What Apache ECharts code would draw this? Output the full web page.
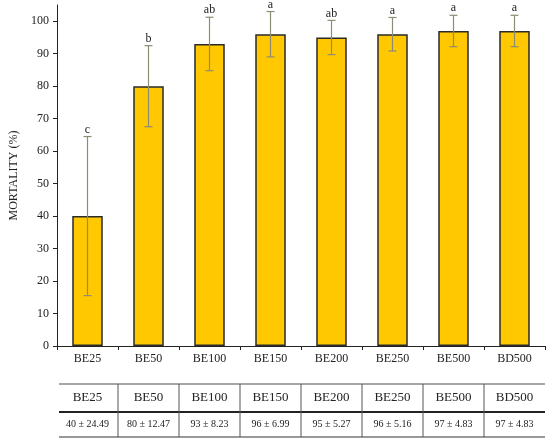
<!DOCTYPE html>
<html>
<head>
	<meta charset="UTF-8">
	<title>mortality chart</title>
	<script src="https://cdn.jsdelivr.net/npm/echarts@6/dist/echarts.min.js"></script>
	<style>
		body { margin: 0; background: #fff; }
		#chart { width: 550px; height: 442px; }
	</style>
</head>
<body>
<div id="chart"></div>
<script type="text/javascript">
	// data
	var categories = ['BE25', 'BE50', 'BE100', 'BE150', 'BE200', 'BE250', 'BE500', 'BD500'];
	var mortality = [40, 80, 93, 96, 95, 96, 97, 97];
	var errors = [24.49, 12.47, 8.23, 6.99, 5.27, 5.16, 4.83, 4.83];
	var letters = ['c', 'b', 'ab', 'a', 'ab', 'a', 'a', 'a'];
	var yTicks = [0, 10, 20, 30, 40, 50, 60, 70, 80, 90, 100];

	var serif = '"Liberation Serif", "DejaVu Serif", serif';

	var errData = [];
	for (var i = 0; i < categories.length; i++) {
		errData.push([i, mortality[i], errors[i]]);
	}

	var myChart = echarts.init(document.getElementById('chart'));

	var option = {
		animation: false,
		grid: { left: 51, right: 5, top: 5, bottom: 96 },
		xAxis: {
			type: 'category',
			data: categories,
			axisLine: { lineStyle: { color: '#222', width: 1 } },
			axisTick: { show: true, length: 4, lineStyle: { color: '#222' } },
			axisLabel: { color: '#222', fontFamily: serif, fontSize: 12, margin: 7 }
		},
		yAxis: {
			type: 'value',
			min: 0,
			max: 105,
			name: 'MORTALITY (%)',
			nameLocation: 'middle',
			nameGap: 37,
			nameTextStyle: { color: '#222', fontFamily: serif, fontSize: 12 },
			axisLine: { show: true, lineStyle: { color: '#222', width: 1 } },
			axisTick: { show: true, length: 4, customValues: yTicks, lineStyle: { color: '#222' } },
			axisLabel: { color: '#222', fontFamily: serif, fontSize: 12, margin: 8, customValues: yTicks },
			splitLine: { show: false }
		},
		series: [{
			type: 'bar',
			data: mortality,
			barWidth: '50%',
			itemStyle: { color: '#FFC800', borderColor: '#2a2a2a', borderWidth: 1.5 }
		}, {
			type: 'custom',
			data: errData,
			z: 5,
			renderItem: function (params, api) {
				var idx = api.value(0);
				var v = api.value(1);
				var e = api.value(2);
				var hi = api.coord([idx, v + e]);
				var lo = api.coord([idx, v - e]);
				var cap = 4;
				var style = { stroke: '#8c8c74', lineWidth: 1.2 };
				return {
					type: 'group',
					children: [
						{ type: 'line', shape: { x1: hi[0], y1: hi[1], x2: lo[0], y2: lo[1] }, style: style },
						{ type: 'line', shape: { x1: hi[0] - cap, y1: hi[1], x2: hi[0] + cap, y2: hi[1] }, style: style },
						{ type: 'line', shape: { x1: lo[0] - cap, y1: lo[1], x2: lo[0] + cap, y2: lo[1] }, style: style },
						{
							type: 'text',
							x: hi[0],
							y: hi[1] - 1,
							style: {
								text: letters[params.dataIndex],
								fill: '#222',
								font: '12px ' + serif,
								align: 'center',
								verticalAlign: 'bottom'
							}
						}
					]
				};
			}
		}]
	};
	myChart.setOption(option);

	// table under the chart, positioned from the category axis
	var p0 = myChart.convertToPixel({ xAxisIndex: 0 }, 0);
	var p1 = myChart.convertToPixel({ xAxisIndex: 0 }, 1);
	var half = (p1 - p0) / 2;
	var left = p0 - half;
	var right = myChart.convertToPixel({ xAxisIndex: 0 }, categories.length - 1) + half;
	var tTop = 384, tMid = 412, tBot = 437;

	var graphic = [
		{ type: 'line', shape: { x1: left + 2, y1: tTop, x2: right, y2: tTop }, style: { stroke: '#888', lineWidth: 1.5 } },
		{ type: 'line', shape: { x1: left + 2, y1: tMid, x2: right, y2: tMid }, style: { stroke: '#222', lineWidth: 2 } },
		{ type: 'line', shape: { x1: left + 2, y1: tBot, x2: right, y2: tBot }, style: { stroke: '#999', lineWidth: 2 } }
	];
	for (var k = 0; k < categories.length; k++) {
		var cx = myChart.convertToPixel({ xAxisIndex: 0 }, k);
		if (k > 0) {
			graphic.push({ type: 'line', shape: { x1: cx - half, y1: tTop, x2: cx - half, y2: tBot }, style: { stroke: '#555', lineWidth: 1 } });
		}
		graphic.push({
			type: 'text', x: cx, y: (tTop + tMid) / 2,
			style: { text: categories[k], fill: '#222', font: '13px ' + serif, align: 'center', verticalAlign: 'middle' }
		});
		graphic.push({
			type: 'text', x: cx, y: (tMid + tBot) / 2,
			style: { text: mortality[k] + ' \u00b1 ' + errors[k].toFixed(2), fill: '#222', font: '10px ' + serif, align: 'center', verticalAlign: 'middle' }
		});
	}
	myChart.setOption({ graphic: graphic });
</script>
</body>
</html>
